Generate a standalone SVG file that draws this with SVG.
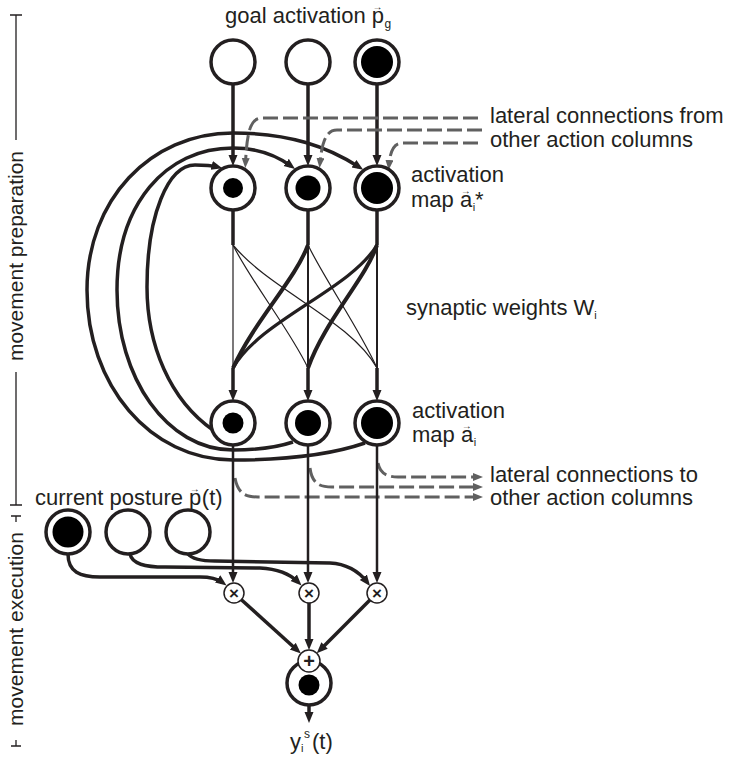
<svg xmlns="http://www.w3.org/2000/svg" width="731" height="760" viewBox="0 0 731 760">
  <style>
    .ring { fill: #fff; stroke: #231f20; stroke-width: 3.5; }
    .dot { fill: #000; }
    .op { fill: #fff; stroke: #231f20; stroke-width: 1.5; }
    .opsym { font-family: "Liberation Sans", Arial, sans-serif; font-size: 17px; font-weight: bold; fill: #231f20; text-anchor: middle; }
    .lbl { font-family: "Liberation Sans", Arial, sans-serif; font-size: 22px; fill: #231f20; }
    .vec { font-size: 10px; }
    .axis { font-family: "Liberation Sans", Arial, sans-serif; font-size: 21px; fill: #231f20; text-anchor: middle; }
    .edge { fill: none; stroke: #231f20; stroke-width: 3.5; }
    .thin { fill: none; stroke: #231f20; stroke-width: 1.2; }
    .lat { fill: none; stroke: #606060; stroke-width: 3; stroke-dasharray: 15 5; }
    .tick { fill: none; stroke: #231f20; stroke-width: 1.3; }
  </style>
  <defs>
    <marker id="ak" markerUnits="userSpaceOnUse" markerWidth="12" markerHeight="10" refX="6" refY="4.5" orient="auto">
      <path d="M0,0 L11,4.5 L0,9 z" fill="#231f20"/>
    </marker>
    <marker id="ag" markerUnits="userSpaceOnUse" markerWidth="11" markerHeight="9" refX="5" refY="4" orient="auto">
      <path d="M0,0 L10,4 L0,8 z" fill="#606060"/>
    </marker>
  </defs>

  <!-- phase axis on the left -->
  <g id="phase-axis">
    <path class="tick" d="M10 15 H22 M16 15 V140 M16 372 V505 M10 505 H22"/>
    <text class="axis" transform="translate(23,256) rotate(-90)">movement preparation</text>
    <path class="tick" d="M11 516 H21 M16 516 V522 M16 740 V746 M11 746 H21"/>
    <text class="axis" transform="translate(23,629) rotate(-90)">movement execution</text>
  </g>

  <g id="connectors">
    <!-- goal activation to activation map a* -->
    <path class="edge" d="M233 84 V161" marker-end="url(#ak)"/>
    <path class="edge" d="M308 84 V161" marker-end="url(#ak)"/>
    <path class="edge" d="M377 84 V161" marker-end="url(#ak)"/>

    <!-- recurrent loops from map a back to map a* -->
    <path class="edge" d="M365 443 C330 455 280 460 233 460 C150 460 87 385 87 290 C87 200 150 133 233 133 C290 133 328 147 359 167" marker-end="url(#ak)"/>
    <path class="edge" d="M293 442 C275 448 255 450 233 450 C167 450 117 378 117 290 C117 205 165 148 233 148 C258 148 276 155 291 166" marker-end="url(#ak)"/>
    <path class="edge" d="M213 430 C170 400 147 345 147 287 C147 215 168 165 195 165 C205 165 212 165.5 217.5 167" marker-end="url(#ak)"/>

    <!-- lateral input from other action columns -->
    <path class="lat" d="M478 118 H262 C251 118 247 130 245.5 163" marker-end="url(#ag)"/>
    <path class="lat" d="M482 130 H337 C326 130 322 142 320 163" marker-end="url(#ag)"/>
    <path class="lat" d="M478 143 H402 C393 143 390 153 389 165" marker-end="url(#ag)"/>

    <!-- synaptic weights between the two maps -->
    <path class="edge" d="M233 210 V245 M308 210 V245 M377 210 V245"/>
    <path class="thin" d="M233 245 V368"/>
    <path class="thin" style="stroke-width:2" d="M308 245 V368 M377 245 V368"/>
    <path class="thin" d="M233 245 C250 280 290 330 308 368"/>
    <path class="thin" d="M233 245 C270 290 350 320 377 368"/>
    <path class="thin" d="M308 245 C325 280 360 330 377 368"/>
    <path class="edge" style="stroke-width:4" d="M308 245 C295 280 255 320 233 368"/>
    <path class="edge" style="stroke-width:3.2" d="M377 245 C350 290 260 320 233 368"/>
    <path class="edge" style="stroke-width:4" d="M377 245 C365 280 325 320 308 368"/>
    <path class="edge" d="M233 368 V396" marker-end="url(#ak)"/>
    <path class="edge" d="M308 368 V396" marker-end="url(#ak)"/>
    <path class="edge" d="M377 368 V396" marker-end="url(#ak)"/>

    <!-- lateral output to other action columns -->
    <path class="lat" d="M378 463 C380 474 388 477 398 477 H478" marker-end="url(#ag)"/>
    <path class="lat" d="M310 468 C312 484 320 487 332 487 H478" marker-end="url(#ag)"/>
    <path class="lat" d="M235 478 C238 494 246 497 258 497 H478" marker-end="url(#ag)"/>

    <!-- map a to the multipliers -->
    <path class="edge" style="stroke-width:2.5" d="M233 445 V578" marker-end="url(#ak)"/>
    <path class="edge" style="stroke-width:2.5" d="M308 445 V578" marker-end="url(#ak)"/>
    <path class="edge" style="stroke-width:2.5" d="M377 445 V578" marker-end="url(#ak)"/>

    <!-- current posture to the multipliers -->
    <path class="edge" d="M68 554 C68 572 80 577 100 577 L200 577 C210 577 217 578.5 222.5 582.5" marker-end="url(#ak)"/>
    <path class="edge" d="M130 554 C132 564 145 567 165 567 L260 568 C278 569 290 574 298 582" marker-end="url(#ak)"/>
    <path class="edge" d="M188 554 C192 559 200 561 215 561 L330 563 C348 564 360 573 367 582" marker-end="url(#ak)"/>

    <!-- multipliers to the sum -->
    <path class="edge" d="M241.4 599.7 L297.2 650.2" marker-end="url(#ak)"/>
    <path class="edge" d="M309 603 V645" marker-end="url(#ak)"/>
    <path class="edge" d="M369.9 600.1 L320.3 649.7" marker-end="url(#ak)"/>

    <!-- output -->
    <path class="edge" d="M309 705 V718" marker-end="url(#ak)"/>
  </g>

  <!-- goal activation nodes -->
  <g id="goal-1"><circle class="ring" cx="233" cy="62" r="22"/></g>
  <g id="goal-2"><circle class="ring" cx="308" cy="62" r="22"/></g>
  <g id="goal-3"><circle class="ring" cx="377" cy="62" r="22"/><circle class="dot" cx="377" cy="62" r="16"/></g>

  <!-- activation map a* -->
  <g id="astar-1"><circle class="ring" cx="233" cy="188" r="22"/><circle class="dot" cx="233" cy="188" r="10"/></g>
  <g id="astar-2"><circle class="ring" cx="308" cy="188" r="22"/><circle class="dot" cx="308" cy="188" r="12.5"/></g>
  <g id="astar-3"><circle class="ring" cx="377" cy="188" r="22"/><circle class="dot" cx="377" cy="188" r="16"/></g>

  <!-- activation map a -->
  <g id="a-1"><circle class="ring" cx="233" cy="423" r="22"/><circle class="dot" cx="233" cy="423" r="10.5"/></g>
  <g id="a-2"><circle class="ring" cx="308" cy="423" r="22"/><circle class="dot" cx="308" cy="423" r="13"/></g>
  <g id="a-3"><circle class="ring" cx="377" cy="423" r="22"/><circle class="dot" cx="377" cy="423" r="16"/></g>

  <!-- current posture -->
  <g id="posture-1"><circle class="ring" cx="68" cy="532" r="22"/><circle class="dot" cx="68" cy="532" r="15.5"/></g>
  <g id="posture-2"><circle class="ring" cx="128" cy="532" r="22"/></g>
  <g id="posture-3"><circle class="ring" cx="188" cy="532" r="22"/></g>

  <!-- multipliers -->
  <g id="mul-1"><circle class="op" cx="234" cy="593" r="10"/><text class="opsym" x="234" y="598.5">×</text></g>
  <g id="mul-2"><circle class="op" cx="309" cy="593" r="10"/><text class="opsym" x="309" y="598.5">×</text></g>
  <g id="mul-3"><circle class="op" cx="377" cy="593" r="10"/><text class="opsym" x="377" y="598.5">×</text></g>

  <!-- output node with its summation -->
  <g id="output"><circle class="ring" cx="309" cy="683" r="22"/><circle class="dot" cx="309" cy="685" r="10.5"/></g>
  <g id="sum"><circle class="op" cx="309" cy="661" r="11"/><text class="opsym" style="font-size:20px" x="309" y="668">+</text></g>

  <g id="labels">
    <text class="lbl" x="225" y="23">goal activation p<tspan class="vec" dx="-11.5" dy="-13">→</tspan><tspan font-size="12" dx="2" dy="18">g</tspan></text>
    <text class="lbl" x="490" y="123">lateral connections from</text>
    <text class="lbl" x="490" y="147">other action columns</text>
    <text class="lbl" x="411" y="182">activation</text>
    <text class="lbl" x="411" y="207">map a<tspan class="vec" dx="-11.5" dy="-13">→</tspan><tspan font-size="11" dx="2" dy="17">i</tspan><tspan dy="-4">*</tspan></text>
    <text class="lbl" x="406" y="315">synaptic weights W<tspan font-size="11" dy="4">i</tspan></text>
    <text class="lbl" x="412" y="418">activation</text>
    <text class="lbl" x="412" y="442">map a<tspan class="vec" dx="-11.5" dy="-13">→</tspan><tspan font-size="11" dx="2" dy="17">i</tspan></text>
    <text class="lbl" x="490" y="482">lateral connections to</text>
    <text class="lbl" x="490" y="505">other action columns</text>
    <text class="lbl" x="35" y="505">current posture p<tspan class="vec" dx="-11.5" dy="-13">→</tspan><tspan dx="2" dy="13">(t)</tspan></text>
    <text class="lbl" x="290" y="749">y<tspan font-size="11" dy="3">i</tspan><tspan font-size="12" x="304" dy="-14">s</tspan><tspan x="312" dy="11">(t)</tspan></text>
  </g>
</svg>
